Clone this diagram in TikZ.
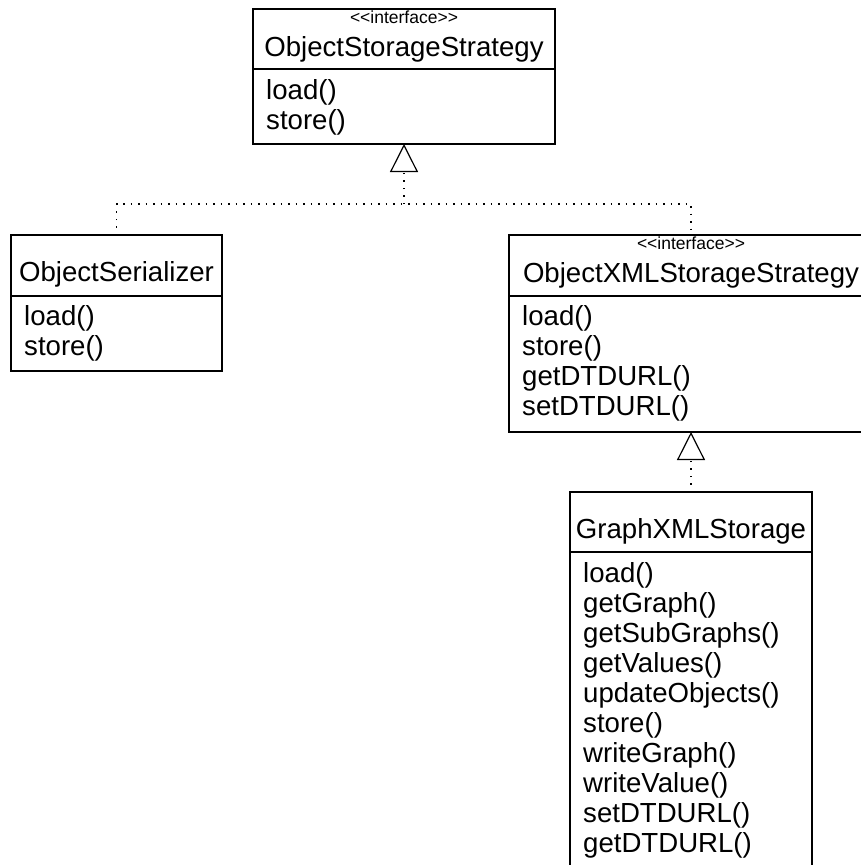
\documentclass[tikz,border=0pt]{standalone}
\usepackage{fontspec}
\setmainfont{Liberation Sans}
\newfontfamily\sterfam{Liberation Sans}[Ligatures=TeXOff]
\usetikzlibrary{arrows.meta}
\begin{document}
\begin{tikzpicture}[x=1pt,y=-1pt,
  cls/.style={draw, line width=1.2pt, anchor=north west, inner sep=0pt, outer sep=0pt},
  ttl/.style={anchor=base, inner sep=0pt, font=\fontsize{27.6}{30}\selectfont},
  ster/.style={anchor=base, inner sep=0pt, font=\sterfam\fontsize{17.5}{20}\selectfont},
  meth/.style={anchor=base west, inner sep=0pt, font=\fontsize{27.6}{30}\selectfont},
  divider/.style={line width=1.2pt},
  dotline/.style={line width=1.3pt, dash pattern=on 1.5pt off 6pt},
  realize/.style={dotline, -{Triangle[open, width=28pt, length=28pt, line width=1.2pt]}}
]
\useasboundingbox (0,0) rectangle (861,865);

% ObjectStorageStrategy
\node[cls, minimum width=302pt, minimum height=135pt] (oss) at (253,9) {};
\draw[divider] (253,69) -- (555,69);
\node[ster] (oss-st) at (404,23) {<<interface>>};
\node[ttl] (oss-t) at (404,56) {ObjectStorageStrategy};
\foreach \m [count=\i from 0] in {load(), store()}
  \node[meth] (oss-m\i) at (266,99+30*\i) {\m};

% ObjectSerializer
\node[cls, minimum width=211pt, minimum height=136pt] (oser) at (11,235) {};
\draw[divider] (11,296) -- (222,296);
\node[ttl] (oser-t) at (116.5,281) {ObjectSerializer};
\foreach \m [count=\i from 0] in {load(), store()}
  \node[meth] (oser-m\i) at (24,325+30*\i) {\m};

% ObjectXMLStorageStrategy
\node[cls, minimum width=364pt, minimum height=197pt] (oxs) at (509,235) {};
\draw[divider] (509,296) -- (873,296);
\node[ster] (oxs-st) at (691,249) {<<interface>>};
\node[ttl] (oxs-t) at (691,282) {ObjectXMLStorageStrategy};
\foreach \m [count=\i from 0] in {load(), store(), getDTDURL(), setDTDURL()}
  \node[meth] (oxs-m\i) at (522,325+30*\i) {\m};

% GraphXMLStorage
\node[cls, minimum width=242pt, minimum height=378pt] (gxs) at (570,492) {};
\draw[divider] (570,552) -- (812,552);
\node[ttl] (gxs-t) at (691,538) {GraphXMLStorage};
\foreach \m [count=\i from 0] in {load(), getGraph(), getSubGraphs(), getValues(), updateObjects(), store(), writeGraph(), writeValue(), setDTDURL(), getDTDURL()}
  \node[meth] (gxs-m\i) at (583,582+30*\i) {\m};

% connectors
\coordinate (j1) at (404,204);
\draw[dotline] (oser.north) |- (j1) -| (oxs.north);
\draw[realize] (j1) -- (oss.south);
\draw[realize] (gxs.north) -- (oxs.south);
\end{tikzpicture}
\end{document}
